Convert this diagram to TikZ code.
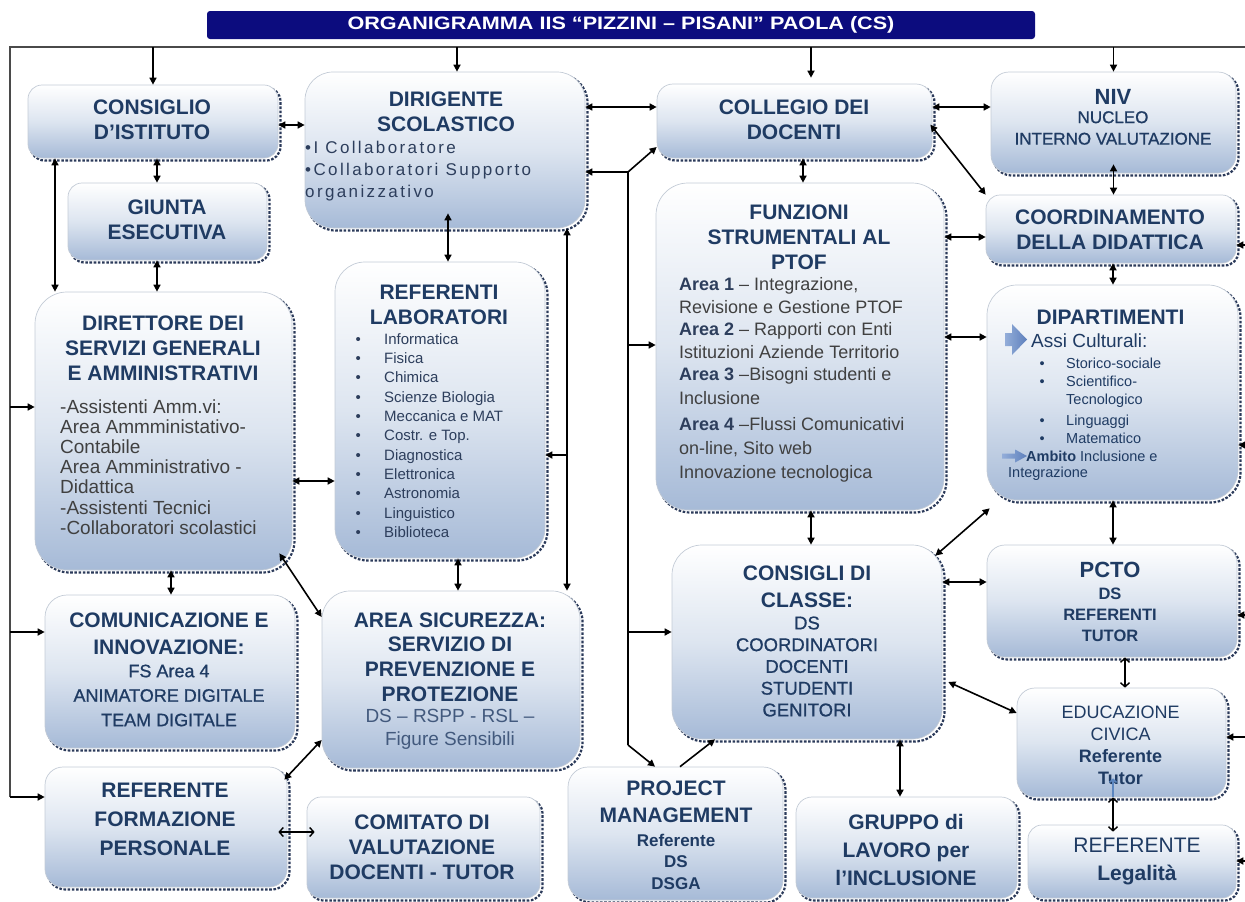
\documentclass[tikz,border=0pt]{standalone}
\usepackage{fontspec}
\setmainfont{Liberation Sans}
\newfontfamily\spacedfont[LetterSpace=14]{Liberation Sans}
\newfontfamily\widefont[FakeStretch=1.2]{Liberation Sans}
\newfontfamily\medfont[FakeBold=0.8]{Liberation Sans}
\usetikzlibrary{arrows.meta,shadows,calc}
\definecolor{navybar}{HTML}{0C0C7E}
\definecolor{ttlc}{HTML}{1F3B63}
\definecolor{bodyc}{HTML}{404040}
\definecolor{listc}{HTML}{2D3E5C}
\definecolor{boxb}{HTML}{A6BAD7}
\definecolor{boxm}{HTML}{DDE5F0}
\definecolor{shadowc}{HTML}{2B3A5A}
\definecolor{edgec}{HTML}{C3CBD6}
\definecolor{iconl}{HTML}{93ADD9}
\definecolor{iconr}{HTML}{5E80BC}
\definecolor{sensc}{HTML}{42597D}
\definecolor{bluetip}{HTML}{5B86C0}
\definecolor{framec}{HTML}{4A4A4A}
\newcommand\fsz[2]{\fontsize{#1}{#2}\selectfont}
\newcommand\bul[1]{\makebox[#1][l]{\textbullet}}
\tikzset{
  box/.style={draw=edgec, line width=0.7pt, top color=white, bottom color=boxb, middle color=boxm,
    general shadow={draw=shadowc, line width=2.2pt, dash pattern=on 2.6pt off 1.6pt,
      shadow xshift=2.5pt, shadow yshift=-2.5pt}},
  txt/.style={inner sep=0pt, align=center, text=ttlc},
  ttl/.style={txt, font=\bfseries\fsz{21}{25}},
  tip/.tip={Triangle[length=7pt,width=7pt]},
  otip/.tip={Straight Barb[length=4pt,width=9pt]},
  arr/.style={line width=1.6pt, -tip},
  darr/.style={line width=1.6pt, tip-tip},
  oarr/.style={line width=1.4pt, otip-otip},
  plain/.style={line width=1.6pt},
  frame/.style={line width=1.8pt, draw=framec},
  icon/.style={left color=iconl, right color=iconr, draw=none},
}
\begin{document}
\begin{tikzpicture}[x=1pt,y=-1pt]
\useasboundingbox (0,0) rectangle (1245,902);
% title bar
\node[fill=navybar, rounded corners=3pt, minimum width=828pt, minimum height=28pt, inner sep=0pt,
  text=white, font=\widefont\bfseries\fsz{18}{20}] (title) at (621,25)
  {ORGANIGRAMMA IIS “PIZZINI – PISANI” PAOLA (CS)};
% frame
\coordinate (ftl) at (10,47);
\coordinate (ftr) at (1245,47);
\coordinate (fr) at (1252,47);
\coordinate (fbl) at (10,797);
\draw[frame] (ftr) -- (ftl) -- (fbl);

% boxes
\node[box, rounded corners=14pt, minimum width=250pt, minimum height=73pt] (b1) at (153,121.5) {};
\node[box, rounded corners=14pt, minimum width=199pt, minimum height=77pt] (b2) at (167.5,221.5) {};
\node[box, rounded corners=28pt, minimum width=280pt, minimum height=156pt] (b3) at (445,150) {};
\node[box, rounded corners=30pt, minimum width=210pt, minimum height=296pt] (b4) at (440,410) {};
\node[box, rounded corners=32pt, minimum width=257pt, minimum height=278pt] (b5) at (163.5,431) {};
\node[box, rounded corners=22pt, minimum width=250pt, minimum height=153pt] (b6) at (170,671.5) {};
\node[box, rounded corners=28pt, minimum width=258pt, minimum height=177pt] (b7) at (451,679.5) {};
\node[box, rounded corners=18pt, minimum width=242pt, minimum height=120pt] (b8) at (166,827) {};
\node[box, rounded corners=14pt, minimum width=233pt, minimum height=101pt] (b9) at (423.5,847.5) {};
\node[box, rounded corners=16pt, minimum width=275pt, minimum height=74pt] (b10) at (794.5,121) {};
\node[box, rounded corners=18pt, minimum width=245pt, minimum height=101pt] (b11) at (1113.5,122.5) {};
\node[box, rounded corners=14pt, minimum width=250pt, minimum height=68pt] (b12) at (1111,229) {};
\node[box, rounded corners=32pt, minimum width=288pt, minimum height=327pt] (b13) at (800,346.5) {};
\node[box, rounded corners=30pt, minimum width=251pt, minimum height=215pt] (b14) at (1112.5,392.5) {};
\node[box, rounded corners=30pt, minimum width=270pt, minimum height=194pt] (b15) at (807,642) {};
\node[box, rounded corners=18pt, minimum width=250pt, minimum height=112pt] (b16) at (1112,601) {};
\node[box, rounded corners=18pt, minimum width=209pt, minimum height=109pt] (b17) at (1121.5,742.5) {};
\node[box, rounded corners=20pt, minimum width=215pt, minimum height=133pt] (b18) at (675.5,833.5) {};
\node[box, rounded corners=16pt, minimum width=221pt, minimum height=101pt] (b19) at (906.5,847.5) {};
\node[box, rounded corners=14pt, minimum width=208pt, minimum height=73pt] (b20) at (1132,861.5) {};

% texts
\node[ttl] (b1t) at (152,119.5) {CONSIGLIO\\D’ISTITUTO};
\node[ttl] (b2t) at (167,219.5) {GIUNTA\\ESECUTIVA};
\node[ttl] (b3t) at (446,112) {DIRIGENTE\\SCOLASTICO};
\node[txt, align=left, anchor=west, text=listc, font=\spacedfont\fsz{17}{22}] (b3b) at (305,171)
  {•I Collaboratore\\•Collaboratori Supporto\\organizzativo};
\node[ttl] (b4t) at (439,305) {REFERENTI\\LABORATORI};
\node[txt, align=left, anchor=west, text=listc, font=\fsz{15}{19.3}] (b4l) at (355.5,435.5)
  {\bul{28.5pt}Informatica\\\bul{28.5pt}Fisica\\\bul{28.5pt}Chimica\\\bul{28.5pt}Scienze Biologia\\
   \bul{28.5pt}Meccanica e MAT\\\bul{28.5pt}Costr. e Top.\\\bul{28.5pt}Diagnostica\\
   \bul{28.5pt}Elettronica\\\bul{28.5pt}Astronomia\\\bul{28.5pt}Linguistico\\\bul{28.5pt}Biblioteca};
\node[ttl] (b5t) at (163,348) {DIRETTORE DEI\\SERVIZI GENERALI\\E AMMINISTRATIVI};
\node[txt, align=left, anchor=west, text=bodyc, font=\fsz{19}{20.2}] (b5b) at (60,467)
  {-Assistenti Amm.vi:\\Area Ammministativo-\\Contabile\\Area Amministrativo -\\Didattica\\-Assistenti Tecnici\\-Collaboratori scolastici};
\node[txt, font=\bfseries\fsz{21}{27}] (b6t) at (169,633.5) {COMUNICAZIONE E\\INNOVAZIONE:};
\node[txt, font=\medfont\fsz{18}{24.5}] (b6b) at (169,695.5) {FS Area 4\\ANIMATORE DIGITALE\\TEAM DIGITALE};
\node[txt, font=\bfseries\fsz{21}{24.7}] (b7t) at (450,657) {AREA SICUREZZA:\\SERVIZIO DI\\PREVENZIONE E\\PROTEZIONE};
\node[txt, text=sensc, font=\fsz{19}{23}] (b7b) at (450,729.5) {DS – RSPP - RSL –\\Figure Sensibili};
\node[txt, font=\bfseries\fsz{21}{29}] (b8t) at (165,819) {REFERENTE\\FORMAZIONE\\PERSONALE};
\node[ttl] (b9t) at (422,847) {COMITATO DI\\VALUTAZIONE\\DOCENTI - TUTOR};
\node[ttl] (b10t) at (794,119.5) {COLLEGIO DEI\\DOCENTI};
\node[txt, font=\bfseries\fsz{22}{25}] (b11t) at (1113,97) {NIV};
\node[txt, font=\medfont\fsz{17}{21.5}] (b11b) at (1113,128) {NUCLEO\\INTERNO VALUTAZIONE};
\node[ttl] (b12t) at (1110,229.5) {COORDINAMENTO\\DELLA DIDATTICA};
\node[ttl] (b13t) at (799,237) {FUNZIONI\\STRUMENTALI AL\\PTOF};
\node[txt, align=left, anchor=west, text=bodyc, font=\fsz{18}{22.5}] (b13b) at (679,380)
  {\textcolor{listc}{\bfseries Area 1} – Integrazione,\\Revisione e Gestione PTOF\\
   \textcolor{listc}{\bfseries Area 2} – Rapporti con Enti\\Istituzioni Aziende Territorio\\
   \textcolor{listc}{\bfseries Area 3} –Bisogni studenti e\\[1pt]Inclusione\\[4pt]
   \textcolor{listc}{\bfseries Area 4} –Flussi Comunicativi\\[1pt]on-line, Sito web\\[2pt]Innovazione tecnologica};
\node[ttl] (b14t) at (1110.5,317) {DIPARTIMENTI};
\shade[icon] (1005,333) -- (1012,333) -- (1012,324) -- (1027,339.5) -- (1012,355) -- (1012,346) -- (1005,346) -- cycle;
\node[txt, anchor=west, font=\fsz{19}{22}] (b14a) at (1031,341) {Assi Culturali:};
\node[txt, align=left, anchor=west, font=\fsz{14.5}{18}] (b14l) at (1039.5,400.5)
  {\bul{26.5pt}Storico-sociale\\\bul{26.5pt}Scientifico-\\\hspace*{26.5pt}Tecnologico\\[3pt]
   \bul{26.5pt}Linguaggi\\\bul{26.5pt}Matematico};
\shade[icon] (1002,453.5) -- (1015,453.5) -- (1015,449.5) -- (1027,456) -- (1015,462.5) -- (1015,458.5) -- (1002,458.5) -- cycle;
\node[txt, anchor=west, font=\fsz{14.5}{18}] (b14c) at (1026,456) {\textbf{Ambito} Inclusione e};
\node[txt, anchor=west, font=\fsz{14.5}{18}] (b14d) at (1008,474) {Integrazione};
\node[txt, font=\bfseries\fsz{21}{27}] (b15t) at (807,586.5) {CONSIGLI DI\\CLASSE:};
\node[txt, font=\medfont\fsz{18.5}{21.75}] (b15b) at (807,666.5) {DS\\COORDINATORI\\DOCENTI\\STUDENTI\\GENITORI};
\node[txt, font=\bfseries\fsz{22}{25}] (b16t) at (1110,570) {PCTO};
\node[txt, font=\bfseries\fsz{16.5}{21}] (b16b) at (1110,615) {DS\\REFERENTI\\TUTOR};
\node[txt, font=\fsz{18}{22}] (b17t) at (1120.5,745) {EDUCAZIONE\\CIVICA\\\textbf{Referente}\\\textbf{Tutor}};
\node[txt, font=\bfseries\fsz{21}{27}] (b18t) at (676,801.5) {PROJECT\\MANAGEMENT};
\node[txt, font=\bfseries\fsz{17}{21.5}] (b18b) at (676,861.5) {Referente\\DS\\DSGA};
\node[txt, font=\bfseries\fsz{21}{28}] (b19t) at (906,850) {GRUPPO di\\LAVORO per\\l’INCLUSIONE};
\node[txt, font=\fsz{21}{28}] (b20t) at (1137,861) {REFERENTE\\\textbf{Legalità}};

% frame arrows
\draw[arr] (ftl -| b1.north) -- (b1.north);
\draw[arr] (ftl -| 457,0) -- (b3.north -| 457,0);
\draw[arr] (ftl -| 811,0) -- ($(b10.north -| 811,0)+(0,-6)$);
\draw[arr] (ftl -| b11.north) -- (b11.north);
\draw[arr] (fbl |- 0,407) -- (b5.west |- 0,407);
\draw[arr] (fbl |- 0,632) -- (b6.west |- 0,632);
\draw[arr] (fbl) -- (b8.west |- fbl);
\draw[arr] (fr |- 0,245) -- (b12.east |- 0,245);
\draw[arr] (fr |- 0,445) -- (b14.east |- 0,445);
\draw[arr] (fr |- 0,615) -- (b16.east |- 0,615);
\draw[arr] (fr |- 0,737) -- (b17.east |- 0,737);
\draw[arr] (fr |- 0,861) -- (b20.east |- 0,861);

% left column
\draw[darr] (b1.east |- 0,125) -- (b3.west |- 0,125);
\draw[darr] (b1.south -| 157,0) -- (b2.north -| 157,0);
\draw[darr] (b1.south -| 55,0) -- (b5.north -| 55,0);
\draw[darr] (b2.south -| 157,0) -- (b5.north -| 157,0);
\draw[darr] (b3.east |- 0,107) -- (b10.west |- 0,107);
\draw[darr] ($(b3.south -| 448,0)+(0,-15)$) -- (b4.north -| 448,0);
\draw[darr] (b5.east |- 0,481) -- (b4.west |- 0,481);
\draw[darr] (b5.south -| 171,0) -- (b6.north -| 171,0);
\draw[darr] ($(b5.south east)+(-13,-17)$) -- (b7.west |- 0,617);
\draw[darr] (b4.south -| 458,0) -- (b7.north -| 458,0);
\draw[darr] ($(b8.north east)+(-3,13)$) -- (b7.west |- 0,740);
\draw[oarr] ($(b8.east |- 0,832)+(-9,0)$) -- ($(b9.west |- 0,832)+(8,0)$);

% x = 567 line
\coordinate (j3) at (567,455);
\draw[darr] (b3.south -| j3) -- (b7.north -| j3);
\draw[arr] (j3) -- (b4.east |- j3);

% x = 628 line
\coordinate (j1) at (628,172);
\coordinate (j2) at (628,745);
\draw[plain] (j1) -- (j2);
\draw[arr] (j1) -- (b3.east |- j1);
\draw[arr] (j1) -- (b10.west |- 0,147);
\draw[arr] (j1 |- 0,345) -- (b13.west |- 0,345);
\draw[arr] (j1 |- 0,632) -- (b15.west |- 0,632);
\draw[arr] (j2) -- (b18.north -| 655,0);
\draw[arr] (b18.north -| 680,0) -- (b15.south -| 715,0);

% right part
\draw[darr] (b10.south -| 803,0) -- (b13.north -| 803,0);
\draw[darr] (b10.east |- 0,107) -- (b11.west |- 0,107);
\draw[darr] ($(b10.north east)+(-2,41)$) -- (b12.north west);
\draw[darr] ($(b11.south)+(0,-9)$) -- (b12.north -| b11.south);
\draw[darr] (b13.east |- 0,237) -- (b12.west |- 0,237);
\draw[darr] (b12.south -| 1113,0) -- (b14.north -| 1113,0);
\draw[darr] (b13.east |- 0,337) -- (b14.west |- 0,337);
\draw[darr] (b13.south -| 811,0) -- (b15.north -| 811,0);
\draw[darr] (b14.south -| 1113,0) -- (b16.north -| 1113,0);
\draw[darr] ($(b15.north east)+(-7,11)$) -- ($(b14.south west)+(3,8)$);
\draw[darr] (b15.east |- 0,582) -- (b16.west |- 0,582);
\draw[darr] ($(b15.east |- 0,682)+(6,0)$) -- (b17.west |- 0,713);
\draw[darr] (b15.south -| 900,0) -- (b19.north -| 900,0);
\draw[oarr] (b16.south -| 1125,0) -- (b17.north -| 1125,0);
\draw[oarr] (b17.south -| 1113,0) -- ($(b20.north -| 1113,0)+(0,7)$);
\draw[line width=1.4pt, draw=bluetip, -{Straight Barb[length=3pt,width=7pt]}] (b17.south -| 1113,0) -- ($(b17.south -| 1113,0)+(0,-19)$);
\end{tikzpicture}
\end{document}
